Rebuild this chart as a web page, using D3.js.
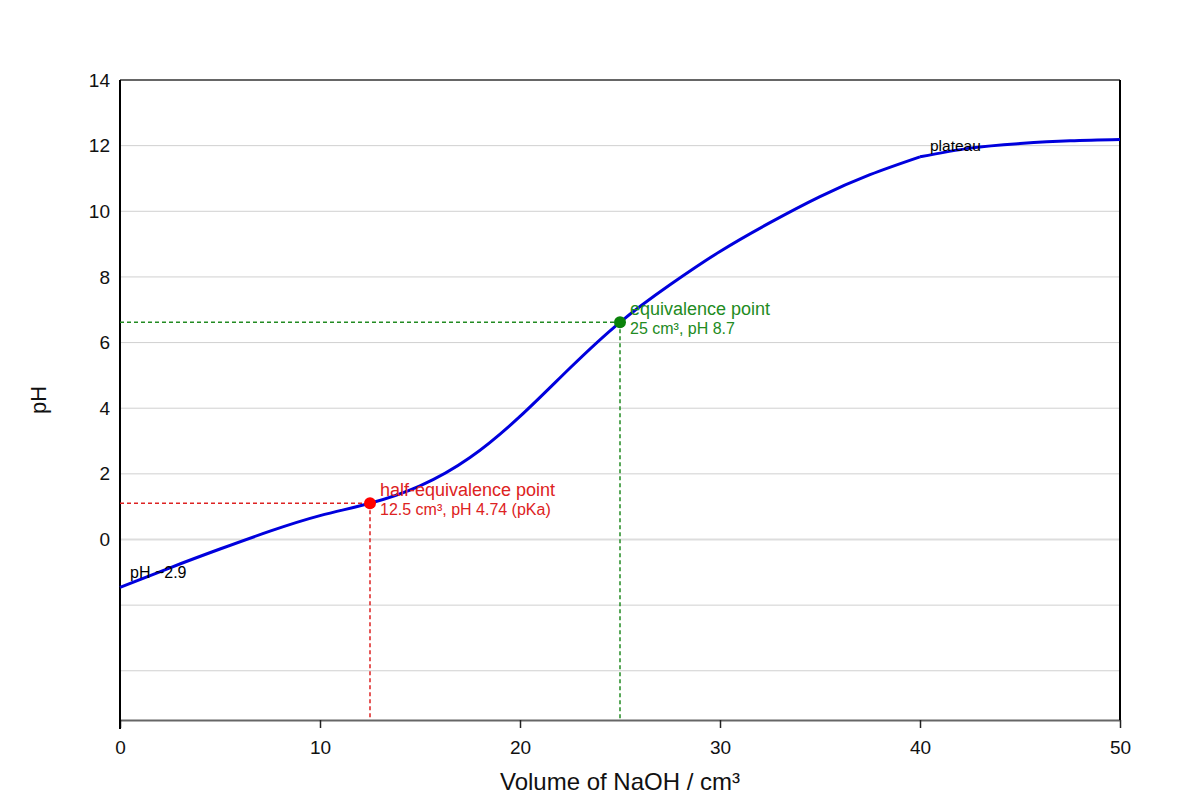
<!DOCTYPE html>
<html>
<head>
<meta charset="utf-8">
<script src="https://cdn.jsdelivr.net/npm/d3@7"></script>
<style>
  html, body { margin: 0; padding: 0; background: #fff; }
  svg { display: block; font-family: "Liberation Sans", Arial, sans-serif; }
</style>
</head>
<body>
<svg id="chart" width="1200" height="800"></svg>
<script>
// ---- data ----
const volume = [0, 2.5, 5, 7.5, 10, 12.5, 15, 17.5, 20, 22.5, 25, 27.5, 30, 32.5, 35, 37.5, 40, 42.5, 45, 47.5, 50];
const pH     = [2.90, 3.33, 3.74, 4.13, 4.47, 4.74, 5.12, 5.74, 6.64, 7.70, 8.70, 9.52, 10.25, 10.88, 11.45, 11.93, 12.32, 12.51, 12.61, 12.67, 12.70];
const plateauStart = 40;
const xTicks = [0, 10, 20, 30, 40, 50];
const yTickLabels = [0, 2, 4, 6, 8, 10, 12, 14];
const yExtraGrid = [-4, -2];
const halfEq = { v: 12.5, pH: 4.74, title: "half-equivalence point", sub: "12.5 cm³, pH 4.74 (pKa)" };
const equiv  = { v: 25, pH: 8.7, title: "equivalence point", sub: "25 cm³, pH 8.7" };
const plateauLabel = { v: 40.5, pH: 12.45, text: "plateau" };
const startLabel = { v: 0.5, pH: 3.1, text: "pH ~2.9" };

// ---- layout ----
const margin = { left: 120, top: 80, right: 80, bottom: 80 };
const W = 1200, H = 800;
const iw = W - margin.left - margin.right;   // 1000
const ih = H - margin.top - margin.bottom;   // 640

const svg = d3.select("#chart");
const g = svg.append("g").attr("transform", `translate(${margin.left},${margin.top})`);

const x = d3.scaleLinear().domain([0, 50]).range([0, iw]);
const y = d3.scaleLinear().domain([0, 14]).range([ih, 0]);          // data scale
const yGrid = d3.scaleLinear().domain([-5.5, 14]).range([ih, 0]);   // tick/grid scale

// gridlines
const gridVals = yExtraGrid.concat(yTickLabels.filter(d => d !== 14));
g.append("g").selectAll("line").data(gridVals).join("line")
  .attr("x1", 0).attr("x2", iw)
  .attr("y1", d => yGrid(d)).attr("y2", d => yGrid(d))
  .attr("stroke", d => d === 0 ? "#dddddd" : "#d0d0d0")
  .attr("stroke-width", d => d === 0 ? 2 : 1);

// y tick labels
g.append("g").selectAll("text").data(yTickLabels).join("text")
  .attr("x", -10).attr("y", d => yGrid(d))
  .attr("dy", "0.35em")
  .attr("text-anchor", "end")
  .attr("font-size", 19).attr("fill", "#111")
  .text(d => d);

// top frame line
g.append("line").attr("x1", 0).attr("x2", iw).attr("y1", 0).attr("y2", 0)
  .attr("stroke", "#666").attr("stroke-width", 2);

// x axis
const xAxis = g.append("g").attr("transform", `translate(0,${ih})`)
  .call(d3.axisBottom(x).tickValues(xTicks).tickSize(8).tickPadding(13).tickSizeOuter(0));
xAxis.select(".domain").attr("stroke", "#666").attr("stroke-width", 2);
xAxis.selectAll(".tick line").attr("stroke", "#222").attr("stroke-width", 1.5);
xAxis.selectAll(".tick text").attr("font-size", 19).attr("fill", "#111")
  .attr("font-family", "Liberation Sans, Arial, sans-serif");

// left & right black axis lines
g.append("line").attr("x1", 0).attr("x2", 0).attr("y1", 0).attr("y2", ih + 9)
  .attr("stroke", "#000").attr("stroke-width", 2);
g.append("line").attr("x1", iw).attr("x2", iw).attr("y1", 0).attr("y2", ih)
  .attr("stroke", "#000").attr("stroke-width", 2);

// dashed guides
function guides(pt, color) {
  g.append("line")
    .attr("x1", x(0)).attr("x2", x(pt.v))
    .attr("y1", y(pt.pH)).attr("y2", y(pt.pH))
    .attr("stroke", color).attr("stroke-width", 1.5).attr("stroke-dasharray", "4,3");
  g.append("line")
    .attr("x1", x(pt.v)).attr("x2", x(pt.v))
    .attr("y1", y(pt.pH)).attr("y2", y(0))
    .attr("stroke", color).attr("stroke-width", 1.5).attr("stroke-dasharray", "4,3");
}
guides(halfEq, "#dd2222");
guides(equiv, "#228b22");

// curve (two smooth pieces meeting at the start of the plateau)
const pts = volume.map((v, i) => [v, pH[i]]);
const pieces = [pts.filter(d => d[0] <= plateauStart), pts.filter(d => d[0] >= plateauStart)];
const line = d3.line().x(d => x(d[0])).y(d => y(d[1])).curve(d3.curveNatural);
g.append("g").selectAll("path").data(pieces).join("path")
  .attr("d", line)
  .attr("fill", "none")
  .attr("stroke", "#0000dd")
  .attr("stroke-width", 3)
  .attr("stroke-linejoin", "round");

// points
g.append("circle").attr("cx", x(halfEq.v)).attr("cy", y(halfEq.pH)).attr("r", 6).attr("fill", "#ff0000");
g.append("circle").attr("cx", x(equiv.v)).attr("cy", y(equiv.pH)).attr("r", 6).attr("fill", "#0a820a");

// annotations
function annot(pt, color) {
  g.append("text").attr("x", x(pt.v) + 10).attr("y", y(pt.pH) - 7)
    .attr("font-size", 18).attr("fill", color).text(pt.title);
  g.append("text").attr("x", x(pt.v) + 10).attr("y", y(pt.pH) + 12)
    .attr("font-size", 16).attr("fill", color).text(pt.sub);
}
annot(halfEq, "#dd2222");
annot(equiv, "#228b22");

g.append("text").attr("x", x(plateauLabel.v)).attr("y", y(plateauLabel.pH))
  .attr("font-size", 15.5).attr("fill", "#000").text(plateauLabel.text);
g.append("text").attr("x", x(startLabel.v)).attr("y", y(startLabel.pH))
  .attr("font-size", 16).attr("fill", "#000").text(startLabel.text);

// axis titles
svg.append("text")
  .attr("x", margin.left + iw / 2).attr("y", 790)
  .attr("text-anchor", "middle").attr("font-size", 24).attr("fill", "#111")
  .text("Volume of NaOH / cm³");
svg.append("text")
  .attr("transform", `translate(46,${margin.top + ih / 2}) rotate(-90)`)
  .attr("text-anchor", "middle").attr("font-size", 22).attr("fill", "#111")
  .text("pH");
</script>
</body>
</html>
